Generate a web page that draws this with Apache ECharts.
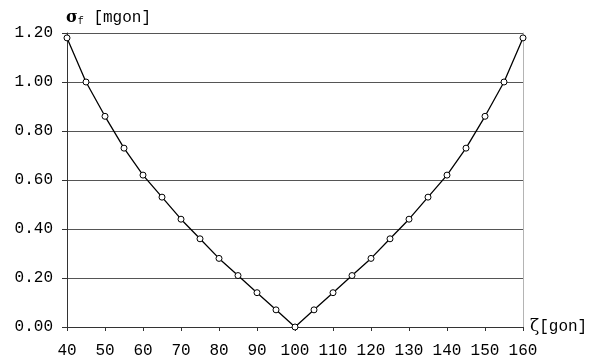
<!DOCTYPE html>
<html>
<head>
<meta charset="utf-8">
<script src="https://cdn.jsdelivr.net/npm/echarts@6/dist/echarts.min.js"></script>
<style>
  html, body { margin: 0; padding: 0; background: #fff; }
  #chart { width: 595px; height: 363px; }
</style>
</head>
<body>
<div id="chart"></div>
<script>
// zenith angle [gon] and standard deviation [mgon]
const zeta = [40, 45, 50, 55, 60, 65, 70, 75, 80, 85, 90, 95, 100,
              105, 110, 115, 120, 125, 130, 135, 140, 145, 150, 155, 160];
const sigma = [1.18, 1.00, 0.86, 0.73, 0.62, 0.53, 0.44, 0.36, 0.28, 0.21, 0.14, 0.07, 0.00,
               0.07, 0.14, 0.21, 0.28, 0.36, 0.44, 0.53, 0.62, 0.73, 0.86, 1.00, 1.18];
const yTicks = ['0.00', '0.20', '0.40', '0.60', '0.80', '1.00', '1.20'];

const mono = '"Liberation Mono", "Courier New", monospace';

const chart = echarts.init(document.getElementById('chart'));

chart.setOption({
  animation: false,
  backgroundColor: '#fff',
  textStyle: { fontFamily: mono },
  title: {
    text: '{s|σ}{f|f} [mgon]',
    left: 61,
    top: 4,
    textStyle: {
      rich: {
        s: { fontFamily: '"DejaVu Serif", serif', fontWeight: 'bold', fontSize: 16, color: '#000' },
        f: { fontFamily: mono, fontSize: 10, color: '#000', verticalAlign: 'bottom', padding: [7, 0, 0, 0] }
      },
      fontFamily: mono,
      fontSize: 16,
      fontWeight: 'normal',
      color: '#000'
    }
  },
  grid: { left: 67, right: 72, top: 33, bottom: 36, containLabel: false },
  xAxis: {
    type: 'value',
    min: 40,
    max: 160,
    interval: 10,
    name: '{z|ζ}[gon]',
    nameLocation: 'end',
    nameGap: 7,
    nameTextStyle: {
      fontFamily: mono, fontSize: 16, color: '#000',
      rich: { z: { fontFamily: '"DejaVu Serif", serif', fontSize: 17, color: '#000' } }
    },
    axisLine: { lineStyle: { color: '#333', width: 1 } },
    axisTick: { show: true, length: 4, inside: false, lineStyle: { color: '#333' } },
    axisLabel: { color: '#000', fontFamily: mono, fontSize: 16, margin: 16 },
    splitLine: { show: false }
  },
  yAxis: [{
    type: 'value',
    min: 0,
    max: 1.2,
    interval: 0.2,
    axisLine: { show: true, lineStyle: { color: '#333', width: 1 } },
    axisTick: { show: true, length: 5, lineStyle: { color: '#333' } },
    axisLabel: {
      color: '#000', fontFamily: mono, fontSize: 16, margin: 14,
      formatter: (v) => yTicks[Math.round(v / 0.2)]
    },
    splitLine: { show: true, lineStyle: { color: '#555', width: 1 } }
  }, {
    type: 'value',
    position: 'right',
    min: 0,
    max: 1.2,
    interval: 0.2,
    axisLine: { show: true, lineStyle: { color: '#b4b4b4', width: 1 } },
    axisTick: { show: false },
    axisLabel: { show: false },
    splitLine: { show: false }
  }],
  series: [{
    type: 'line',
    data: zeta.map((z, i) => [z, sigma[i]]),
    symbol: 'circle',
    symbolSize: 6,
    showAllSymbol: true,
    lineStyle: { color: '#000', width: 1.3 },
    itemStyle: { color: '#fff', borderColor: '#000', borderWidth: 1 },
    z: 5
  }]
});
</script>
</body>
</html>
